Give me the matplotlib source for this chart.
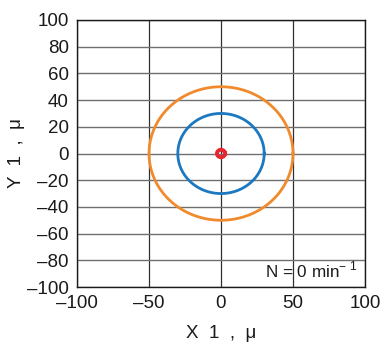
import numpy as np
import matplotlib.pyplot as plt

plt.rcParams['font.family'] = ['Liberation Sans', 'DejaVu Sans']

# orbit radii (um)
radii = [50, 30, 2.8]
colors = ['#f08a2c', '#1c78c0', '#e8242c']
widths = [2.0, 2.0, 2.8]
x_ticks = [-100, -50, 0, 50, 100]
y_ticks = [-100, -80, -60, -40, -20, 0, 20, 40, 60, 80, 100]

theta = np.linspace(0, 2 * np.pi, 400)

fig = plt.figure(figsize=(3.83, 3.42), dpi=100)
ax = fig.add_axes([77 / 383, 1 - 287 / 342, 288 / 383, 267 / 342])

for r, c, w in zip(radii, colors, widths):
    ax.plot(r * np.cos(theta), r * np.sin(theta), color=c, lw=w, zorder=3)

ax.set_xlim(-100, 100)
ax.set_ylim(-100, 100)
ax.set_xticks(x_ticks)
ax.set_yticks(y_ticks)
ax.set_xticklabels([str(t).replace('-', '\u2013') for t in x_ticks])
ax.set_yticklabels([str(t).replace('-', '\u2013') for t in y_ticks])
ax.tick_params(length=0, labelsize=13.5, pad=6, colors='#1a1a1a')
ax.xaxis.grid(True, color='#303030', lw=0.9)
ax.yaxis.grid(True, color='#707070', lw=1.0)
ax.set_axisbelow(True)
for s in ax.spines.values():
    s.set_color('#1a1a1a')
    s.set_linewidth(1.0)

ax.set_xlabel('X  1  ,  \u03bc', fontsize=13.5, labelpad=9, color='#1a1a1a')
ax.set_ylabel('Y  1  ,  \u03bc', fontsize=13.5, labelpad=1, color='#1a1a1a')
ax.text(0.975, 0.025, 'N = 0 min$^{\\mathregular{-\\ 1}}$', transform=ax.transAxes,
        ha='right', va='bottom', fontsize=12.3, color='#1a1a1a')

fig.savefig('out.png', dpi=100)
